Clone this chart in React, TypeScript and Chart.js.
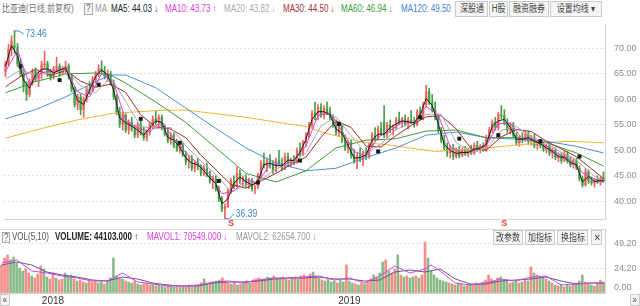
import React, { useEffect, useRef } from 'react';
import { Chart, registerables } from 'chart.js';

Chart.register(...registerables);

const FONT = 'Arial, "Liberation Sans", "Noto Sans CJK SC", sans-serif';

// ---------------- data (one candle ≈ 2.5 trading days) ----------------
const opens = [
  65.5, 67.0, 69.8, 70.5, 70.2, 67.0, 65.0, 62.5, 61.0, 63.5,
  65.5, 64.0, 65.0, 66.8, 67.0, 65.0, 64.5, 66.0, 66.5, 65.2,
  66.0, 66.5, 64.5, 62.0, 59.0, 60.5, 58.0, 60.0, 62.0, 61.8,
  64.0, 65.0, 66.0, 65.5, 64.5, 65.0, 63.2, 60.5, 57.5, 55.2,
  56.8, 54.0, 55.5, 54.2, 53.0, 55.0, 53.5, 52.5, 53.8, 55.0,
  56.2, 55.5, 56.5, 54.5, 53.2, 52.0, 53.0, 51.0, 50.2, 51.0,
  49.2, 47.8, 48.5, 46.5, 47.6, 46.8, 45.5, 46.5, 45.2, 44.0,
  44.5, 42.5, 40.5, 38.5, 39.0, 42.0, 44.0, 43.0, 45.5, 44.0,
  44.6, 43.2, 44.0, 42.5, 42.8, 45.0, 47.5, 47.0, 48.0, 47.0,
  46.0, 48.0, 47.5, 46.5, 48.8, 47.5, 48.2, 47.8, 50.0, 49.2,
  51.5, 53.0, 55.0, 57.2, 56.8, 58.5, 57.0, 58.2, 57.5, 56.5,
  55.0, 53.5, 54.8, 52.0, 50.5, 51.5, 49.0, 48.0, 49.0, 48.2,
  49.5, 48.8, 51.0, 53.0, 52.2, 54.2, 55.5, 53.0, 55.0, 54.0,
  54.5, 56.0, 55.5, 56.2, 55.2, 56.0, 55.8, 55.0, 57.5, 56.5,
  59.0, 61.5, 59.5, 58.0, 56.5, 54.0, 52.0, 50.5, 49.5, 50.5,
  48.8, 50.0, 49.0, 50.2, 49.3, 50.0, 49.5, 51.0, 50.2, 50.8,
  50.0, 52.5, 54.0, 55.5, 54.5, 57.0, 56.8, 55.5, 54.0, 55.0,
  53.0, 51.5, 52.5, 52.0, 53.2, 51.8, 52.5, 51.0, 51.6, 51.0,
  50.2, 50.8, 49.5, 50.0, 48.6, 49.0, 48.0, 49.2, 48.0, 47.2,
  48.0, 46.5, 44.5, 43.2, 45.8, 44.0, 43.6, 44.2, 43.8, 44.5,
];
const highs = [
  67.5, 70.8, 72.5, 73.46, 71.0, 68.0, 66.0, 63.5, 64.0, 66.0,
  66.2, 65.5, 67.5, 69.5, 67.5, 66.0, 66.5, 68.3, 67.0, 66.5,
  67.5, 67.0, 65.0, 62.5, 61.0, 61.0, 60.5, 62.5, 63.5, 64.5,
  65.5, 66.8, 67.6, 66.5, 65.8, 65.5, 63.8, 61.0, 58.5, 57.5,
  57.2, 56.0, 56.5, 55.0, 55.5, 56.0, 54.5, 54.0, 55.5, 56.8,
  57.8, 57.0, 57.0, 55.0, 54.0, 53.5, 53.5, 52.2, 51.5, 51.5,
  49.8, 49.0, 49.0, 48.0, 48.5, 47.2, 47.0, 47.5, 46.0, 45.0,
  45.0, 43.0, 41.0, 39.5, 42.5, 44.5, 45.0, 46.8, 46.2, 45.0,
  45.2, 44.5, 44.5, 43.2, 45.5, 48.0, 49.5, 48.5, 49.2, 48.0,
  48.5, 50.0, 48.5, 49.5, 49.5, 48.5, 49.0, 50.5, 51.5, 52.0,
  53.5, 55.5, 57.8, 59.5, 59.0, 59.2, 58.8, 59.5, 58.5, 57.0,
  56.0, 55.2, 55.0, 53.0, 52.0, 52.0, 50.2, 49.5, 50.5, 49.8,
  50.5, 51.5, 53.5, 54.5, 54.8, 55.5, 58.8, 55.5, 56.0, 55.0,
  56.5, 57.5, 56.5, 57.0, 56.5, 57.8, 56.5, 58.0, 58.5, 59.5,
  62.8, 62.2, 61.0, 59.5, 57.0, 54.5, 53.0, 51.5, 51.0, 51.2,
  50.5, 50.8, 50.5, 50.8, 50.5, 51.0, 51.5, 51.8, 51.2, 51.5,
  53.0, 54.5, 56.0, 56.5, 57.5, 58.8, 58.0, 56.2, 55.5, 55.5,
  53.5, 52.8, 53.5, 53.8, 53.8, 53.0, 53.2, 52.0, 52.2, 51.8,
  51.2, 51.2, 50.5, 50.5, 49.5, 49.5, 49.8, 49.8, 48.8, 48.5,
  48.5, 47.0, 45.0, 46.5, 46.2, 44.8, 44.5, 45.0, 44.8, 45.8,
];
const lows = [
  64.5, 66.5, 68.5, 69.0, 66.5, 64.5, 61.5, 59.8, 60.5, 62.8,
  63.5, 62.5, 64.0, 66.0, 64.5, 63.8, 64.0, 65.5, 64.5, 64.8,
  65.2, 64.0, 61.5, 58.5, 58.0, 57.0, 56.5, 59.5, 61.0, 61.5,
  63.2, 64.5, 65.0, 64.0, 63.5, 62.8, 60.0, 57.0, 54.5, 54.0,
  53.5, 53.2, 53.8, 52.5, 52.5, 53.0, 52.0, 51.8, 53.0, 54.2,
  55.0, 54.5, 54.0, 52.8, 51.5, 51.2, 50.5, 49.8, 49.5, 48.8,
  47.2, 46.5, 46.0, 45.8, 46.2, 45.0, 45.0, 44.8, 43.5, 42.5,
  42.0, 40.0, 38.0, 36.39, 38.8, 41.5, 42.5, 42.8, 43.5, 43.0,
  42.8, 42.5, 42.0, 41.5, 42.5, 44.5, 46.5, 45.8, 46.5, 45.5,
  45.8, 47.0, 46.0, 46.2, 47.0, 46.8, 47.2, 47.5, 48.8, 49.0,
  50.8, 52.5, 54.5, 56.0, 56.0, 56.5, 56.2, 57.0, 56.0, 54.5,
  53.0, 52.8, 51.5, 50.0, 49.5, 48.5, 47.5, 46.4, 47.8, 47.0,
  48.2, 48.5, 50.5, 51.8, 52.0, 53.0, 52.5, 52.5, 53.5, 53.0,
  54.0, 55.0, 54.5, 54.8, 54.2, 55.2, 54.5, 54.8, 56.0, 56.0,
  58.5, 59.0, 57.5, 56.0, 53.5, 51.5, 50.0, 48.8, 48.5, 48.2,
  48.5, 48.5, 48.8, 49.0, 48.8, 49.2, 49.2, 49.8, 49.5, 49.8,
  49.8, 52.0, 53.5, 54.0, 54.0, 56.2, 55.0, 53.5, 53.2, 52.5,
  51.0, 50.8, 51.5, 51.8, 51.2, 51.0, 50.5, 50.2, 50.5, 49.8,
  49.5, 49.0, 48.5, 48.2, 47.8, 47.5, 47.8, 47.5, 46.8, 46.5,
  46.2, 44.0, 42.8, 43.0, 43.5, 43.2, 42.8, 43.5, 43.2, 43.8,
];
const closes = [
  67.0, 69.8, 71.5, 70.2, 67.0, 65.0, 62.5, 61.0, 63.5, 65.5,
  64.0, 65.0, 66.8, 67.0, 65.0, 64.5, 66.0, 66.5, 65.2, 66.0,
  66.5, 64.5, 62.0, 59.0, 60.5, 58.0, 60.0, 62.0, 61.8, 64.0,
  65.0, 66.0, 65.5, 64.5, 65.0, 63.2, 60.5, 57.5, 55.2, 56.8,
  54.0, 55.5, 54.2, 53.0, 55.0, 53.5, 52.5, 53.8, 55.0, 56.2,
  55.5, 56.5, 54.5, 53.2, 52.0, 53.0, 51.0, 50.2, 51.0, 49.2,
  47.8, 48.5, 46.5, 47.6, 46.8, 45.5, 46.5, 45.2, 44.0, 44.5,
  42.5, 40.5, 38.5, 39.0, 42.0, 44.0, 43.0, 45.5, 44.0, 44.6,
  43.2, 44.0, 42.5, 42.8, 45.0, 47.5, 47.0, 48.0, 47.0, 46.0,
  48.0, 47.5, 46.5, 48.8, 47.5, 48.2, 47.8, 50.0, 49.2, 51.5,
  53.0, 55.0, 57.2, 56.8, 58.5, 57.0, 58.2, 57.5, 56.5, 55.0,
  53.5, 54.8, 52.0, 50.5, 51.5, 49.0, 48.0, 49.0, 48.2, 49.5,
  48.8, 51.0, 53.0, 52.2, 54.2, 53.5, 53.0, 55.0, 54.0, 54.5,
  56.0, 55.5, 56.2, 55.2, 56.0, 55.8, 55.0, 57.5, 56.5, 59.0,
  61.5, 59.5, 58.0, 56.5, 54.0, 52.0, 50.5, 49.5, 50.5, 48.8,
  50.0, 49.0, 50.2, 49.3, 50.0, 49.5, 51.0, 50.2, 50.8, 50.0,
  52.5, 54.0, 55.5, 54.5, 57.0, 56.8, 55.5, 54.0, 55.0, 53.0,
  51.5, 52.5, 52.0, 53.2, 51.8, 52.5, 51.0, 51.6, 51.0, 50.2,
  50.8, 49.5, 50.0, 48.6, 49.0, 48.0, 49.2, 48.0, 47.2, 48.0,
  46.5, 44.5, 43.2, 45.8, 44.0, 43.6, 44.2, 43.8, 44.5, 44.0,
];
const volumes = [
  28, 35, 38, 33, 36, 30, 25, 22, 24, 20,
  17, 15, 19, 27, 24, 16, 14, 20, 15, 13,
  14, 20, 17, 18, 14, 12, 13, 11, 10, 12,
  11, 12, 10, 11, 9, 12, 15, 35, 17, 15,
  14, 12, 11, 10, 12, 9, 8, 9, 10, 8,
  9, 7, 8, 7, 6, 8, 7, 6, 7, 6,
  7, 6, 8, 6, 7, 8, 10, 14, 9, 10,
  11, 12, 13, 15, 12, 10, 9, 11, 8, 9,
  11, 12, 10, 13, 14, 15, 13, 14, 16, 15,
  17, 14, 15, 16, 14, 13, 15, 16, 14, 17,
  18, 16, 19, 21, 17, 15, 13, 12, 14, 11,
  12, 10, 13, 11, 28, 12, 10, 9, 8, 10,
  9, 11, 14, 18, 16, 20, 31, 33, 22, 20,
  24, 38, 18, 16, 17, 15, 16, 17, 15, 18,
  51, 35, 22, 18, 15, 13, 12, 11, 10, 9,
  8, 10, 9, 7, 8, 9, 8, 10, 9, 11,
  13, 18, 14, 12, 15, 16, 13, 12, 10, 11,
  12, 10, 11, 13, 12, 26, 20, 18, 16, 15,
  14, 12, 10, 8, 7, 9, 6, 8, 7, 9,
  10, 12, 18, 11, 9, 8, 7, 10, 13, 11,
];

// moving-average curves: [candle index, value]
const ma5 = [[0,66.5],[2,70.6],[4,68.6],[6,63.8],[8,62.2],[10,64.8],[12,65.9],[14,66.0],[16,65.2],[18,65.8],[20,66.2],[22,63.2],[24,59.8],[26,59.0],[28,61.9],[30,64.5],[32,65.8],[34,64.8],[36,61.8],[38,56.4],[40,55.4],[42,54.8],[44,54.0],[46,53.0],[48,54.4],[50,55.8],[52,55.5],[54,52.6],[56,52.0],[58,50.6],[60,48.5],[62,47.5],[64,47.2],[66,46.0],[68,44.6],[70,43.5],[72,39.5],[74,40.5],[76,43.5],[78,44.8],[80,43.9],[82,43.2],[84,43.9],[86,47.2],[88,47.5],[90,47.0],[92,47.0],[94,48.1],[96,48.0],[98,49.6],[100,52.2],[102,56.1],[104,57.6],[106,57.6],[108,57.0],[110,54.2],[112,53.4],[114,51.0],[116,48.5],[118,48.6],[120,49.1],[122,52.0],[124,53.2],[126,53.2],[128,54.5],[130,55.2],[132,55.8],[134,55.6],[136,55.4],[138,57.0],[140,60.2],[142,58.8],[144,55.2],[146,51.2],[148,50.0],[150,49.4],[152,49.6],[154,49.6],[156,50.2],[158,50.5],[160,51.2],[162,54.8],[164,55.8],[166,56.1],[168,54.5],[170,52.2],[172,52.2],[174,52.5],[176,51.8],[178,51.3],[180,50.5],[182,49.8],[184,48.8],[186,48.6],[188,47.6],[190,47.2],[192,43.8],[194,44.9],[196,43.9],[198,44.1],[199,44.03]];
const ma10 = [[0,65.5],[4,69.6],[8,63.0],[12,65.3],[16,65.6],[20,66.0],[24,61.5],[28,60.5],[32,65.1],[36,63.3],[40,55.9],[44,54.4],[48,53.7],[52,55.7],[56,52.3],[60,49.6],[64,47.4],[68,45.3],[72,41.5],[76,42.0],[80,44.3],[84,43.6],[88,47.4],[92,47.0],[96,48.1],[100,50.9],[104,56.9],[108,57.3],[112,53.8],[116,49.8],[120,48.9],[124,52.6],[128,53.9],[132,55.6],[136,55.5],[140,58.6],[144,57.0],[148,50.6],[152,49.5],[156,50.0],[160,50.9],[164,55.3],[168,55.3],[172,52.3],[176,52.1],[180,50.9],[184,49.3],[188,48.1],[192,45.6],[196,44.4],[199,43.73]];
const ma20 = [[0,64.0],[5,65.8],[10,64.8],[15,65.2],[20,65.8],[25,62.7],[30,61.3],[35,64.4],[40,59.6],[45,54.7],[50,54.3],[55,54.5],[60,50.9],[65,47.9],[70,45.3],[75,41.9],[80,43.2],[85,44.2],[90,46.4],[95,47.4],[100,49.5],[105,54.8],[110,56.6],[115,52.9],[120,49.3],[125,51.3],[130,54.1],[135,55.4],[140,57.1],[145,57.1],[150,51.5],[155,49.7],[160,50.4],[165,53.9],[170,54.7],[175,52.7],[180,51.5],[185,49.6],[190,48.1],[195,45.4],[199,43.82]];
const ma30 = [[0,62.5],[5,64.5],[10,65.9],[15,64.7],[20,65.7],[25,63.6],[30,62.4],[35,63.0],[40,61.4],[45,57.0],[50,54.6],[55,54.2],[60,52.5],[65,49.1],[70,46.2],[75,43.3],[80,42.6],[85,44.0],[90,45.5],[95,47.25],[100,48.7],[105,52.6],[110,55.8],[115,54.5],[120,50.8],[125,50.7],[130,52.9],[135,54.9],[140,56.6],[145,56.8],[150,54.2],[155,50.3],[160,50.1],[165,52.65],[170,54.1],[175,53.7],[180,51.8],[185,50.3],[190,48.75],[195,46.4],[199,44.5]];
const ma60 = [[0,61.3],[10,63.5],[20,65.0],[30,65.2],[35,64.8],[40,63.2],[50,59.5],[60,55.5],[70,50.5],[80,45.5],[90,43.8],[100,46.0],[110,50.5],[120,52.0],[130,52.3],[140,53.8],[150,54.0],[160,52.5],[170,52.5],[180,51.5],[190,49.5],[199,46.94]];
const ma120 = [[0,56.2],[10,58.0],[20,60.5],[30,63.5],[35,64.8],[40,64.8],[50,62.3],[60,58.3],[67,55.5],[70,54.3],[80,50.5],[90,47.5],[100,46.0],[110,46.5],[120,48.6],[130,50.5],[140,53.0],[150,53.6],[160,52.5],[170,52.2],[180,51.8],[190,50.8],[199,49.5]];
const ma250 = [[0,52.4],[12,54.3],[24,56.0],[36,57.3],[53,57.9],[60,57.9],[73,57.0],[80,56.5],[93,55.3],[100,54.7],[107,53.3],[120,51.5],[127,51.1],[143,49.8],[160,50.5],[173,51.2],[187,51.8],[199,51.5]];
const mavol1 = [[0,30],[5,33],[10,22],[15,20],[20,17],[25,15],[30,12],[35,12],[40,20],[45,11],[50,9],[55,7],[60,7],[65,8],[70,11],[75,12],[80,10],[85,13],[90,15],[95,15],[100,16],[105,17],[110,13],[115,15],[120,10],[125,17],[130,27],[135,20],[140,24],[142,28],[145,22],[150,10],[155,8],[160,10],[165,14],[170,12],[175,16],[180,17],[185,8],[190,9],[195,10],[199,10]];
const mavol2 = [[0,28],[5,31],[10,28],[15,21],[20,18],[25,16],[30,13],[35,12],[40,16],[45,14],[50,10],[55,8],[60,7],[65,7],[70,10],[75,11],[80,11],[85,12],[90,14],[95,15],[100,15],[105,16],[110,14],[115,14],[120,12],[125,13],[130,21],[135,23],[140,21],[145,24],[150,14],[155,9],[160,9],[165,12],[170,13],[175,14],[180,16],[185,12],[190,9],[195,10],[199,10]];

const markerIndex = [5, 18, 31, 45, 58, 71, 84, 98, 111, 124, 138, 151, 164, 178, 191];
const markerValue = [66.5, 63.8, 62.9, 56.2, 51.5, 44.0, 43.7, 48.0, 55.2, 49.8, 56.5, 52.3, 53.0, 51.8, 48.8];
const signalIndex = [75, 166];

const priceTicks = [40, 45, 50, 55, 60, 65, 70];
const priceMin = 36.54;
const priceMax = 74.81;
const volTicks = [0, 24.2, 49.2];
const volMax = 64;
const yearLabels = ['2018', '2019'];
const yearTickIndex = [17, 115];

const maNames = ['MA5', 'MA10', 'MA20', 'MA30', 'MA60', 'MA120'];
const maLast = ['44.03', '43.73', '43.82', '44.50', '46.94', '49.50'];
const maTrend = ['↓', '↑', '↓', '↓', '↓', ''];
const volNames = ['VOLUME', 'MAVOL1', 'MAVOL2'];
const volLast = ['44103.000', '70549.000', '62654.700'];
const volTrend = ['↑', '↓', '↓'];

// ---------------- styling ----------------
const UP = '#f0625e';
const DOWN = '#45a045';
const VOL_UP = '#f29088';
const VOL_DOWN = '#88bb88';
const MA_COLORS = ['#1e1e1e', '#e03ee0', '#a8a8a8', '#a52a2a', '#3d9a3d', '#4a8fd6'];
const MA250_COLOR = '#f2b233';
const MA_TEXT = ['#222', '#e03ee0', '#aaa', '#a83232', '#3d9a3d', '#3d85d0'];
const maLeft = [111, 165, 224, 283, 341, 401];
const volLeft = [55, 147, 236];
const volText = ['#222', '#e03ee0', '#999'];

const pts = (arr) => arr.map(([x, y]) => ({ x, y }));

function fixY(scale) {
  scale.width = 35;
  scale.paddingTop = 0;
  scale.paddingBottom = 0;
}

const annotatePlugin = {
  id: 'annotate',
  afterDatasetsDraw(chart) {
    const { ctx, chartArea } = chart;
    const x = chart.scales.x;
    const y = chart.scales.y;
    let hi = 0;
    let lo = 0;
    for (let i = 1; i < highs.length; i++) {
      if (highs[i] > highs[hi]) hi = i;
      if (lows[i] < lows[lo]) lo = i;
    }
    const label = (text, tx, ty) => {
      ctx.save();
      ctx.translate(tx, ty);
      ctx.scale(0.85, 1);
      ctx.fillText(text, 0, 0);
      ctx.restore();
    };
    ctx.save();
    ctx.strokeStyle = '#3d85c6';
    ctx.fillStyle = '#3d85c6';
    ctx.lineWidth = 1;
    ctx.font = `10px ${FONT}`;
    ctx.textBaseline = 'middle';
    ctx.textAlign = 'left';
    const hx = x.getPixelForValue(hi);
    const hy = y.getPixelForValue(highs[hi]);
    ctx.beginPath();
    ctx.moveTo(hx, hy);
    ctx.lineTo(hx + 4, hy);
    ctx.lineTo(hx + 9, hy + 3);
    ctx.stroke();
    label(highs[hi].toFixed(2), hx + 11, hy + 3);
    const lx = x.getPixelForValue(lo);
    const ly = y.getPixelForValue(lows[lo]);
    ctx.beginPath();
    ctx.moveTo(lx, ly - 1);
    ctx.lineTo(lx + 4, ly - 1);
    ctx.lineTo(lx + 9, ly - 6);
    ctx.stroke();
    label(lows[lo].toFixed(2), lx + 11, ly - 6);
    ctx.fillStyle = '#e53935';
    ctx.font = `bold 9px ${FONT}`;
    ctx.textAlign = 'center';
    signalIndex.forEach((i) => {
      ctx.fillText('S', x.getPixelForValue(i), chartArea.bottom + 5);
    });
    ctx.restore();
  },
};

function Txt({ x, y, c = '#555', b = false, s = 10, children }) {
  return (
    <span
      style={{
        position: 'absolute', left: x, top: y, color: c, fontSize: s, fontWeight: b ? 700 : 400,
        fontFamily: FONT, lineHeight: '12px', whiteSpace: 'nowrap',
        transform: 'scaleX(0.8)', transformOrigin: '0 0',
      }}
    >
      {children}
    </span>
  );
}

function Btn({ x, y, w, h, children }) {
  return (
    <div
      style={{
        position: 'absolute', left: x, top: y, width: w, height: h, boxSizing: 'border-box',
        border: '1px solid #cbcbcb', background: '#f5f5f5', display: 'flex',
        alignItems: 'center', justifyContent: 'center', overflow: 'visible',
      }}
    >
      <span
        style={{
          fontSize: 10, fontFamily: FONT, color: '#444', whiteSpace: 'nowrap',
          transform: 'scaleX(0.8)', lineHeight: '12px',
        }}
      >
        {children}
      </span>
    </div>
  );
}

export default function App() {
  const mainRef = useRef(null);
  const volRef = useRef(null);

  useEffect(() => {
    const n = closes.length;
    const idx = closes.map((_, i) => i);
    const up = closes.map((c, i) => c >= opens[i]);
    const candleColor = up.map((u) => (u ? UP : DOWN));
    const volColor = up.map((u) => (u ? VOL_UP : VOL_DOWN));
    const lineDs = (data, color, order) => ({
      type: 'line', data: pts(data), borderColor: color, borderWidth: 1, pointRadius: 0,
      tension: 0, fill: false, order,
    });

    const main = new Chart(mainRef.current, {
      type: 'bar',
      data: {
        datasets: [
          {
            type: 'line', data: markerIndex.map((i, k) => ({ x: i, y: markerValue[k] })),
            showLine: false, pointStyle: 'rect', pointRadius: 2.8,
            backgroundColor: '#1a1a1a', borderColor: '#1a1a1a', borderWidth: 0, order: 0,
          },
          lineDs(ma5, MA_COLORS[0], 1),
          lineDs(ma10, MA_COLORS[1], 1),
          lineDs(ma20, MA_COLORS[2], 1),
          lineDs(ma30, MA_COLORS[3], 1),
          lineDs(ma60, MA_COLORS[4], 1),
          lineDs(ma120, MA_COLORS[5], 1),
          lineDs(ma250, MA250_COLOR, 1),
          {
            type: 'bar', data: idx.map((i) => ({ x: i, y: [opens[i], closes[i]] })),
            backgroundColor: candleColor, barThickness: 1.6, minBarLength: 1, grouped: false, order: 2,
          },
          {
            type: 'bar', data: idx.map((i) => ({ x: i, y: [lows[i], highs[i]] })),
            backgroundColor: candleColor, barThickness: 1, grouped: false, order: 3,
          },
        ],
      },
      options: {
        responsive: false,
        animation: false,
        events: [],
        layout: { padding: 0 },
        plugins: { legend: { display: false }, tooltip: { enabled: false } },
        scales: {
          x: {
            type: 'linear', min: -0.5, max: n - 0.5, offset: false,
            grid: { display: false, drawTicks: false },
            ticks: { display: false },
            border: { display: true, color: '#d6d6d6' },
            afterFit: (s) => { s.height = 10; s.paddingLeft = 0; s.paddingRight = 0; },
          },
          y: {
            position: 'right', min: priceMin, max: priceMax,
            afterBuildTicks: (s) => { s.ticks = priceTicks.map((v) => ({ value: v })); },
            ticks: {
              color: '#8c8c8c', font: { size: 9, family: FONT }, padding: 9,
              callback: (v) => Number(v).toFixed(2),
            },
            grid: { color: '#e0e0e0', drawTicks: false },
            border: { display: true, color: '#d0d0d0', dash: [2, 2] },
            afterFit: fixY,
          },
        },
      },
      plugins: [annotatePlugin],
    });

    const vol = new Chart(volRef.current, {
      type: 'bar',
      data: {
        datasets: [
          lineDs(mavol1, '#e03ee0', 0),
          lineDs(mavol2, '#5c5c86', 1),
          {
            type: 'bar', data: idx.map((i) => ({ x: i, y: volumes[i] })),
            backgroundColor: volColor, barThickness: 2, grouped: false, order: 2,
          },
        ],
      },
      options: {
        responsive: false,
        animation: false,
        events: [],
        layout: { padding: 0 },
        plugins: { legend: { display: false }, tooltip: { enabled: false } },
        scales: {
          x: {
            type: 'linear', min: -0.5, max: n - 0.5, offset: false,
            afterBuildTicks: (s) => { s.ticks = yearTickIndex.map((v) => ({ value: v })); },
            ticks: {
              autoSkip: false, maxRotation: 0, color: '#333', padding: 2,
              font: { size: 10, family: FONT },
              callback: (v) => { const k = yearTickIndex.indexOf(v); return k >= 0 ? yearLabels[k] : ''; },
            },
            grid: { display: false, drawTicks: false },
            border: { display: true, color: '#cfcfcf' },
            afterFit: (s) => { s.height = 13; s.paddingLeft = 0; s.paddingRight = 0; },
          },
          y: {
            position: 'right', min: 0, max: volMax,
            afterBuildTicks: (s) => { s.ticks = volTicks.map((v) => ({ value: v })); },
            ticks: {
              color: '#8c8c8c', font: { size: 9, family: FONT }, padding: 9,
              callback: (v) => (Number(v) === 0 ? ['0.00', ''] : Number(v).toFixed(2)),
            },
            grid: { color: '#e0e0e0', drawTicks: false },
            border: { display: true, color: '#d0d0d0', dash: [2, 2] },
            afterFit: fixY,
          },
        },
      },
    });

    return () => {
      main.destroy();
      vol.destroy();
    };
  }, []);

  return (
    <div
      style={{
        position: 'absolute', left: 0, top: 0, width: 640, height: 306, overflow: 'hidden',
        background: '#fff', fontFamily: FONT,
      }}
    >
      {/* top header */}
      <Txt x={2} y={3} c="#666">比亚迪</Txt>
      <Txt x={26} y={3} c="#777">(日线,前复权)</Txt>
      <div style={{ position: 'absolute', left: 84, top: 3, width: 9, height: 12, boxSizing: 'border-box', border: '1px solid #aaa', background: '#f6f6f6' }} />
      <Txt x={86} y={3} c="#666">?</Txt>
      <Txt x={95} y={3} c="#999">MA</Txt>
      {maNames.map((nm, k) => (
        <Txt key={nm} x={maLeft[k]} y={3} c={MA_TEXT[k]}>
          {`${nm}: ${maLast[k]}${maTrend[k] ? ' ' + maTrend[k] : ''}`}
        </Txt>
      ))}
      <Btn x={455} y={1} w={33} h={16}>深股通</Btn>
      <Btn x={489} y={1} w={19} h={16}>H股</Btn>
      <Btn x={509} y={1} w={40} h={16}>融资融券</Btn>
      <Btn x={550} y={1} w={52} h={16}>设置均线 ▾</Btn>

      <canvas ref={mainRef} width={640} height={209} style={{ position: 'absolute', left: 0, top: 20, width: 640, height: 209 }} />
      <div style={{ position: 'absolute', left: 0, top: 229, width: 605, height: 1, background: '#dcdcdc' }} />
      <canvas ref={volRef} width={640} height={77} style={{ position: 'absolute', left: 0, top: 229, width: 640, height: 77 }} />

      {/* volume header */}
      <div style={{ position: 'absolute', left: 2, top: 232, width: 8, height: 11, boxSizing: 'border-box', border: '1px solid #aaa', background: '#f6f6f6' }} />
      <Txt x={3.5} y={231.5} c="#666">?</Txt>
      <Txt x={12} y={231} c="#555">VOL(5,10)</Txt>
      {volNames.map((nm, k) => (
        <Txt key={nm} x={volLeft[k]} y={231} c={volText[k]} b={k === 0}>
          {`${nm}: ${volLast[k]} ${volTrend[k]}`}
        </Txt>
      ))}
      <Btn x={493} y={230} w={30} h={15}>改参数</Btn>
      <Btn x={525} y={230} w={30} h={15}>加指标</Btn>
      <Btn x={557} y={230} w={31} h={15}>换指标</Btn>
      <Btn x={591} y={230} w={11} h={15}>✕</Btn>

      {/* bottom scroll buttons */}
      <Btn x={0} y={294} w={10} h={12}>«</Btn>
      <Btn x={630} y={294} w={10} h={12}>»</Btn>
    </div>
  );
}
